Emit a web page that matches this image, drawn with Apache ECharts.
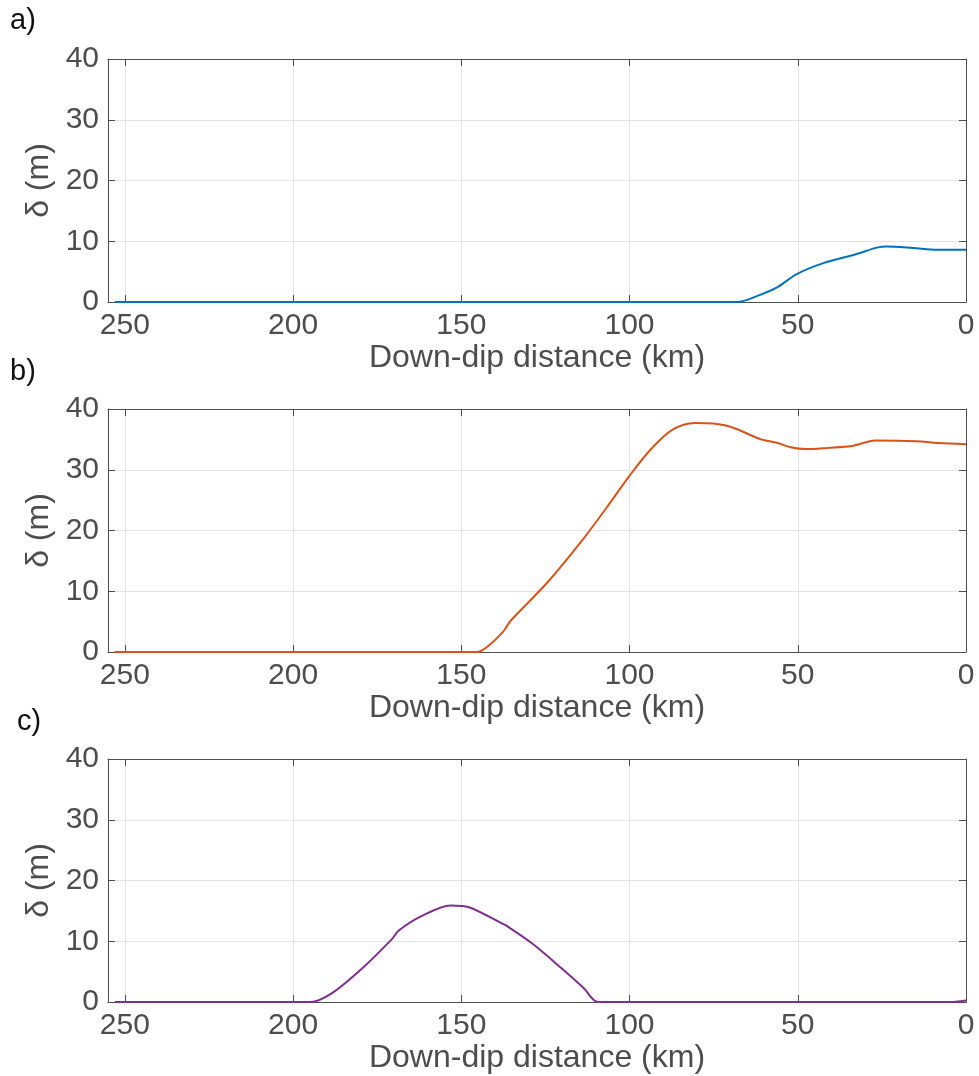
<!DOCTYPE html>
<html>
<head>
<meta charset="utf-8">
<title>Down-dip slip</title>
<script src="https://cdn.jsdelivr.net/npm/echarts@6/dist/echarts.min.js"></script>
<style>
  html, body { margin: 0; padding: 0; background: #fff; }
  #chart { width: 979px; height: 1076px; }
</style>
</head>
<body>
<div id="chart"></div>
<script>
// distance along the fault (km) and slip (m)
const kmA   = [253, 120, 68, 62, 56.3, 50.3, 42.4, 32.5, 26.5, 23.6, 15.7, 8.7, 0];
const slipA = [0, 0, 0, 1.0, 2.35, 4.6, 6.4, 7.9, 8.95, 9.15, 8.9, 8.6, 8.6];

const kmB   = [253, 180, 145.3, 142.0, 137.6, 135.4, 124.5, 113.5, 106.9, 100.3, 93.8, 87.2, 80.6, 75.1, 69.6, 60.9, 56.5, 52.1, 47.7, 41.1, 34.0, 26.9, 14.8, 8.2, 0];
const slipB = [0, 0, 0, 1.0, 3.3, 5.1, 11.4, 18.8, 23.7, 28.8, 33.3, 36.6, 37.7, 37.6, 37.0, 35.0, 34.5, 33.7, 33.4, 33.6, 33.9, 34.8, 34.7, 34.4, 34.2];

const kmC   = [253, 220, 194.8, 188.3, 179.5, 170.7, 168.5, 162.0, 153.2, 147.7, 137.8, 136.7, 129.1, 120.3, 113.7, 109.3, 60, 5, 0];
const slipC = [0, 0, 0, 1.5, 5.5, 10.3, 11.8, 14.1, 15.9, 15.6, 12.9, 12.6, 9.7, 5.6, 2.35, 0, 0, 0, 0.25];

const xTicks = [0, 50, 100, 150, 200, 250];
const panelLabels = ['a)', 'b)', 'c)'];
const colors = ['#0072BD', '#D95319', '#7E2F8E'];

const chart = echarts.init(document.getElementById('chart'));

const font = 'Liberation Sans, Arial, sans-serif';
const axisColor = '#4d4d4d';
const gridTops = [59, 409, 759];

const grids = [], xAxes = [], yAxes = [], series = [], graphics = [];
const sets = [[kmA, slipA], [kmB, slipB], [kmC, slipC]];

gridTops.forEach((top, i) => {
  grids.push({ left: 108, top: top, width: 858, height: 243 });
  // bottom x axis
  xAxes.push({
    gridIndex: i, type: 'value', position: 'bottom', inverse: true,
    min: 0, max: 255, interval: 50,
    name: 'Down-dip distance (km)', nameLocation: 'middle', nameGap: 39,
    nameTextStyle: { fontFamily: font, fontSize: 32, color: axisColor },
    axisLine: { show: true, onZero: false, lineStyle: { color: axisColor, width: 1 } },
    axisTick: { show: true, inside: true, length: 7, lineStyle: { color: axisColor } },
    axisLabel: {
      fontFamily: font, fontSize: 30, color: axisColor, margin: 9,
      formatter: v => xTicks.indexOf(v) >= 0 ? String(v) : ''
    },
    splitLine: { show: true, lineStyle: { color: '#e3e3e3', width: 1 } }
  });
  // top mirror axis
  xAxes.push({
    gridIndex: i, type: 'value', position: 'top', inverse: true,
    min: 0, max: 255, interval: 50,
    axisLine: { show: true, onZero: false, lineStyle: { color: axisColor, width: 1 } },
    axisTick: { show: true, inside: true, length: 7, lineStyle: { color: axisColor } },
    axisLabel: { show: false },
    splitLine: { show: false }
  });
  yAxes.push({
    gridIndex: i, type: 'value', position: 'left',
    min: 0, max: 40, interval: 10,
    name: 'δ (m)', nameLocation: 'middle', nameGap: 44,
    nameTextStyle: { fontFamily: font, fontSize: 32, color: axisColor },
    axisLine: { show: true, onZero: false, lineStyle: { color: axisColor, width: 1 } },
    axisTick: { show: true, inside: true, length: 7, lineStyle: { color: axisColor } },
    axisLabel: { fontFamily: font, fontSize: 30, color: axisColor, margin: 9 },
    splitLine: { show: true, lineStyle: { color: '#e3e3e3', width: 1 } }
  });
  yAxes.push({
    gridIndex: i, type: 'value', position: 'right',
    min: 0, max: 40, interval: 10,
    axisLine: { show: true, onZero: false, lineStyle: { color: axisColor, width: 1 } },
    axisTick: { show: true, inside: true, length: 7, lineStyle: { color: axisColor } },
    axisLabel: { show: false },
    splitLine: { show: false }
  });
  const km = sets[i][0], slip = sets[i][1];
  series.push({
    type: 'line', xAxisIndex: i * 2, yAxisIndex: i * 2,
    data: km.map((k, j) => [k, slip[j]]),
    showSymbol: false, smooth: 0.3,
    lineStyle: { color: colors[i], width: 2 },
    itemStyle: { color: colors[i] }
  });
});

graphics.push(
  { type: 'text', left: 10, top: 6, style: { text: panelLabels[0], font: '29px ' + font, fill: '#111' } },
  { type: 'text', left: 10, top: 357, style: { text: panelLabels[1], font: '29px ' + font, fill: '#111' } },
  { type: 'text', left: 17, top: 707, style: { text: panelLabels[2], font: '29px ' + font, fill: '#111' } }
);

chart.setOption({
  animation: false,
  grid: grids,
  xAxis: xAxes,
  yAxis: yAxes,
  series: series,
  graphic: graphics
});
</script>
</body>
</html>
